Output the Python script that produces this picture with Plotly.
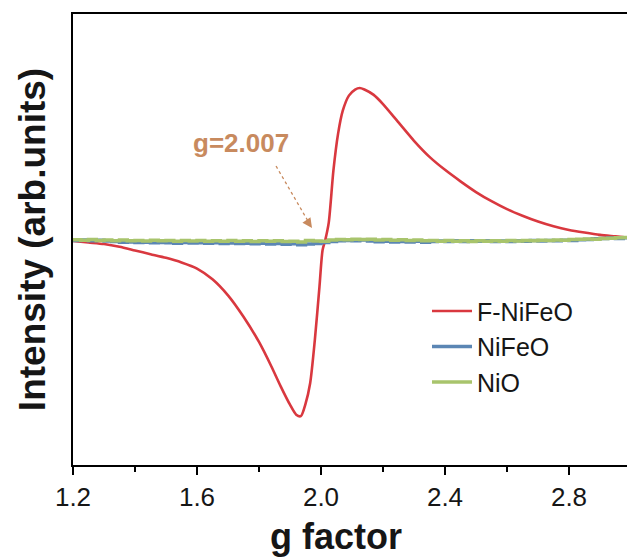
import plotly.graph_objects as go

# ---------------- data ----------------
red_g = [1.20, 1.25, 1.30, 1.35, 1.40, 1.45, 1.50, 1.55, 1.60, 1.65, 1.70, 1.75,
         1.80, 1.84, 1.87, 1.90, 1.92, 1.935, 1.95, 1.965, 1.98, 1.995, 2.005,
         2.013, 2.025, 2.04, 2.055, 2.07, 2.09, 2.11, 2.125, 2.14, 2.17, 2.20,
         2.25, 2.30, 2.35, 2.40, 2.45, 2.50, 2.55, 2.60, 2.65, 2.70, 2.75, 2.80,
         2.85, 2.90, 2.95, 3.00]
red_i = [0.0, -0.01, -0.02, -0.038, -0.062, -0.086, -0.11, -0.14, -0.18, -0.25,
         -0.355, -0.495, -0.66, -0.82, -0.95, -1.07, -1.135, -1.145, -1.065, -0.93,
         -0.65, -0.30, -0.06, 0.0, 0.12, 0.46, 0.70, 0.85, 0.95, 0.99, 1.0, 0.99,
         0.955, 0.895, 0.775, 0.655, 0.55, 0.465, 0.39, 0.32, 0.26, 0.208, 0.165,
         0.127, 0.096, 0.072, 0.055, 0.04, 0.03, 0.02]

base_g = [round(1.2 + 0.025 * k, 3) for k in range(73)]
nifeo_i = [0.004, 0.006, 0.002, 0.005, 0.000, -0.004, -0.008, -0.006,
           -0.010, -0.008, -0.012, -0.009, -0.011, -0.014, -0.010, -0.013,
           -0.011, -0.015, -0.012, -0.016, -0.013, -0.017, -0.014, -0.018,
           -0.015, -0.020, -0.016, -0.021, -0.018, -0.024, -0.019, -0.016,
           -0.010, -0.004, 0.002, 0.004, 0.001, 0.006, 0.000, -0.005,
           -0.002, -0.007, -0.003, -0.006, -0.002, -0.008, -0.003, 0.000,
           -0.004, 0.001, -0.003, 0.002, -0.002, 0.001, -0.004, 0.000,
           -0.003, 0.002, -0.001, 0.003, 0.000, 0.004, 0.001, 0.005,
           0.003, 0.008, 0.010, 0.014, 0.016, 0.019, 0.017, 0.022, 0.025]
nio_i = [0.008, 0.005, 0.009, 0.004, 0.007, 0.002, 0.006, 0.001,
         0.004, 0.000, 0.005, 0.001, 0.003, -0.001, 0.004, 0.000,
         0.003, -0.002, 0.002, -0.001, 0.003, -0.002, 0.002, -0.003,
         0.001, -0.002, 0.002, -0.004, -0.001, -0.006, 0.004, 0.000,
         -0.002, 0.006, 0.010, 0.008, 0.012, 0.009, 0.011, 0.007,
         0.010, 0.005, 0.008, 0.003, 0.006, 0.001, 0.004, -0.001,
         0.003, -0.002, 0.002, -0.003, 0.001, -0.002, 0.002, -0.001,
         0.003, 0.000, 0.004, 0.001, 0.005, 0.003, 0.007, 0.005,
         0.009, 0.011, 0.013, 0.012, 0.016, 0.018, 0.021, 0.023, 0.026]

x_ticks = [1.2, 1.6, 2.0, 2.4, 2.8]
x_tick_labels = ["1.2", "1.6", "2.0", "2.4", "2.8"]
x_title = "g factor"
y_title = "Intensity (arb.units)"
g_label = "g=2.007"
g_arrow_tail = (1.855, 0.49)
g_arrow_head = (1.971, 0.085)

RED = "#d9383f"
BLUE = "#5b86b4"
GREEN = "#a8c46c"
ANN = "#c88a5e"
FONT = "Liberation Sans, Arial, sans-serif"
TXT = "#161616"

fig = go.Figure()
fig.add_trace(go.Scatter(x=red_g, y=red_i, mode="lines", name="F-NiFeO",
                         line=dict(color=RED, width=2.6, shape="spline", smoothing=0.7)))
fig.add_trace(go.Scatter(x=base_g, y=nifeo_i, mode="lines", name="NiFeO",
                         line=dict(color=BLUE, width=3.5, shape="hv")))
fig.add_trace(go.Scatter(x=base_g, y=nio_i, mode="lines", name="NiO",
                         line=dict(color=GREEN, width=3.5, shape="hv")))

# dotted arrow shaft
fig.add_trace(go.Scatter(x=[g_arrow_tail[0], g_arrow_head[0]],
                         y=[g_arrow_tail[1], g_arrow_head[1]],
                         mode="lines", showlegend=False, hoverinfo="skip",
                         line=dict(color=ANN, width=1.3, dash="dot")))
fig.add_annotation(x=g_arrow_head[0], y=g_arrow_head[1],
                   ax=g_arrow_head[0] - 0.012, ay=g_arrow_head[1] + 0.035,
                   axref="x", ayref="y", xref="x", yref="y",
                   text="", showarrow=True, arrowhead=2, arrowsize=1.3,
                   arrowwidth=1.5, arrowcolor=ANN)
fig.add_annotation(x=1.743, y=0.64, xref="x", yref="y", text="<b>" + g_label + "</b>",
                   showarrow=False, font=dict(family=FONT, size=26, color=ANN))

# x-axis title (placed slightly left of centre like the original)
fig.add_annotation(x=0.475, y=-0.158, xref="paper", yref="paper",
                   xanchor="center", yanchor="middle",
                   text="<b>" + x_title + "</b>", showarrow=False,
                   font=dict(family=FONT, size=36, color=TXT))

fig.update_layout(
    width=627, height=559,
    margin=dict(l=73, r=0, t=14, b=94),
    plot_bgcolor="white", paper_bgcolor="white",
    font=dict(family=FONT, color=TXT),
    showlegend=True,
    legend=dict(x=0.639, y=0.392, xanchor="left", yanchor="top",
                bgcolor="rgba(0,0,0,0)", font=dict(family=FONT, size=25, color=TXT),
                itemwidth=40, tracegroupgap=0),
    xaxis=dict(range=[1.2, 1.2 + 554 / 310], showgrid=False, zeroline=False,
               showline=True, linecolor="black", linewidth=2, mirror=True,
               ticks="outside", ticklen=8, tickwidth=2, tickcolor="black",
               tickvals=x_ticks, ticktext=x_tick_labels,
               tickfont=dict(family=FONT, size=26, color=TXT),
               minor=dict(ticks="outside", ticklen=5, tickwidth=2, tickcolor="black",
                          dtick=0.2, tick0=1.2, showgrid=False)),
    yaxis=dict(range=[-224 / 153, 227 / 153], showgrid=False, zeroline=False,
               showline=True, linecolor="black", linewidth=2,
               showticklabels=False, ticks="",
               title=dict(text="<b>" + y_title + "</b>",
                          font=dict(family=FONT, size=37, color=TXT),
                          standoff=14)),
)

fig.write_html("out.html")
